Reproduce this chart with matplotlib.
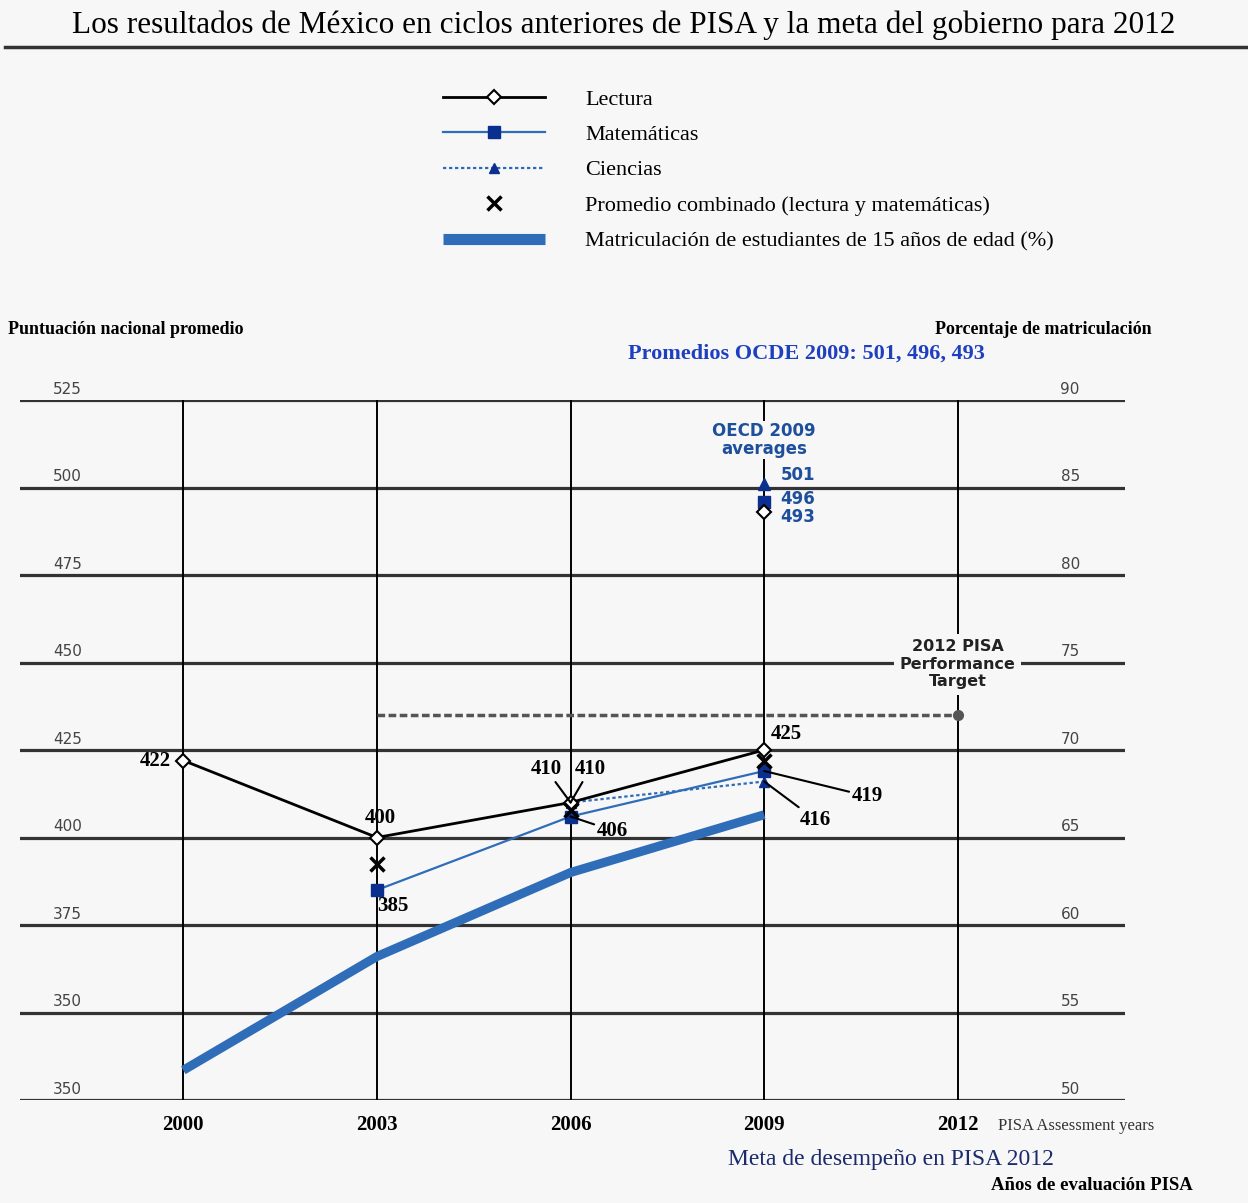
import numpy as np
import matplotlib.pyplot as plt
from matplotlib.lines import Line2D

# datos
years = [2000, 2003, 2006, 2009]
lectura = [422, 400, 410, 425]
mate_years = [2003, 2006, 2009]
matematicas = [385, 406, 419]
ciencias_years = [2006, 2009]
ciencias = [410, 416]
comb_years = [2003, 2006, 2009]
combinado = [392.5, 408, 422]
matric = [51.7, 58.2, 63.0, 66.3]  # % matriculacion (eje derecho)
oecd = {'ciencias': 501, 'matematicas': 496, 'lectura': 493}
meta_years = [2003, 2012]
meta = [435, 435]

left_ticks = [525, 500, 475, 450, 425, 400, 375, 350, 325]
left_labels = ['525', '500', '475', '450', '425', '400', '375', '350', '350']
right_labels = ['90', '85', '80', '75', '70', '65', '60', '55', '50']
xyears = [2000, 2003, 2006, 2009, 2012]

bg = '#f7f7f7'
blue_line = '#2f6db8'
navy = '#0a2f8f'
oecd_blue = '#1d4f9c'
serif = 'Liberation Serif'

W, H = 1248, 1203
fig = plt.figure(figsize=(W / 100, H / 100), dpi=100, facecolor=bg)
ax = fig.add_axes([20 / W, 1 - 1100 / H, 1105 / W, 700 / H])
ax.set_facecolor(bg)
x0, x1 = 1997.47, 2014.59
ax.set_xlim(x0, x1)
ax.set_ylim(325, 525)
for s in ax.spines.values():
    s.set_visible(False)
ax.set_xticks([])
ax.set_yticks([])

# rejilla
for v in left_ticks:
    ax.axhline(v, color='#333333', lw=2.3, zorder=1)
ax.vlines(xyears, 325, 525, color='black', lw=1.4, zorder=1)

# etiquetas de los ejes
for v, lab in zip(left_ticks, left_labels):
    ax.text(1998.21, v + 0.9, lab, ha='center', va='bottom', fontsize=11,
            color='#444444', family='DejaVu Sans')
for v, lab in zip(left_ticks, right_labels):
    ax.text(2013.74, v + 0.9, lab, ha='center', va='bottom', fontsize=11,
            color='#444444', family='DejaVu Sans')
for yr in xyears:
    ax.text(yr, 318, str(yr), ha='center', va='center', fontsize=15,
            fontweight='bold', family=serif)

# matriculacion en eje derecho
ax2 = ax.twinx()
ax2.set_ylim(50, 90)
ax2.set_axis_off()
l_mat, = ax2.plot(years, matric, color=blue_line, lw=6.5, solid_capstyle='butt', zorder=3)

# meta 2012
l_meta, = ax.plot(meta_years, meta, color='#555555', lw=2.5, ls=(0, (2.2, 1)), zorder=4)
ax.plot([2012], [435], 'o', color='#555555', ms=7, zorder=5)

l_cien, = ax.plot(ciencias_years, ciencias, color=blue_line, lw=1.6, ls=(0, (1.5, 1.2)),
                  marker='^', mfc=navy, mec=navy, ms=7, zorder=6)
l_mate, = ax.plot(mate_years, matematicas, color=blue_line, lw=1.6,
                  marker='s', mfc=navy, mec=navy, ms=8, zorder=6)
l_lect, = ax.plot(years, lectura, color='black', lw=2,
                  marker='D', mfc='white', mec='black', mew=1.5, ms=7, zorder=7)
l_comb, = ax.plot(comb_years, combinado, 'x', color='black', mew=2.5, ms=10, ls='none', zorder=8)

# promedios OCDE 2009
ax.plot([2009], [oecd['ciencias']], '^', color=navy, ms=8, zorder=6)
ax.plot([2009], [oecd['matematicas']], 's', color=navy, ms=8, zorder=6)
ax.plot([2009], [oecd['lectura']], 'D', mfc='white', mec='black', mew=1.5, ms=7, zorder=7)
ax.text(2009.25, 503.6, '501', color=oecd_blue, fontsize=12, fontweight='bold', va='center')
ax.text(2009.25, 496.7, '496', color=oecd_blue, fontsize=12, fontweight='bold', va='center')
ax.text(2009.25, 491.6, '493', color=oecd_blue, fontsize=12, fontweight='bold', va='center')
ax.text(2009, 513.6, 'OECD 2009\naverages', color=oecd_blue, fontsize=12, fontweight='bold',
        ha='center', va='center', linespacing=1.0,
        bbox=dict(facecolor=bg, edgecolor='none', pad=1), zorder=9)
ax.text(2012, 449.5, '2012 PISA\nPerformance\nTarget', color='#222222', fontsize=11.5,
        fontweight='bold', ha='center', va='center', linespacing=1.2,
        bbox=dict(facecolor=bg, edgecolor='none', pad=4), zorder=9)

# etiquetas de datos
lab = dict(fontsize=15, fontweight='bold', family=serif, zorder=10)
lead = dict(arrowstyle='-', color='black', lw=1.5, shrinkA=0, shrinkB=0)
ax.text(1999.8, 422, '422', ha='right', va='center', **lab)
ax.text(2003.05, 405.5, '400', ha='center', va='center', **lab)
ax.text(2003.25, 380.5, '385', ha='center', va='center', **lab)
ax.annotate('410', xy=(2006, 410), xytext=(2005.62, 419.5), ha='center', va='center', arrowprops=lead, **lab)
ax.annotate('410', xy=(2006, 410), xytext=(2006.3, 419.5), ha='center', va='center', arrowprops=lead, **lab)
ax.annotate('406', xy=(2006, 406), xytext=(2006.65, 402), ha='center', va='center', arrowprops=lead, **lab)
ax.text(2009.35, 429.5, '425', ha='center', va='center', **lab)
ax.annotate('419', xy=(2009, 419), xytext=(2010.6, 411.8), ha='center', va='center', arrowprops=lead, **lab)
ax.annotate('416', xy=(2009, 416), xytext=(2009.8, 405), ha='center', va='center', arrowprops=lead, **lab)

# titulo y textos
fig.text(624 / W, 1 - 25 / H, 'Los resultados de México en ciclos anteriores de PISA y la meta del gobierno para 2012',
         ha='center', va='center', fontsize=22.5, family=serif)
fig.add_artist(Line2D([5 / W, 1], [1 - 47 / H] * 2, color='#333333', lw=2.5))
fig.text(8 / W, 1 - 329 / H, 'Puntuación nacional promedio', ha='left', va='center',
         fontsize=13, fontweight='bold', family=serif)
fig.text(1152 / W, 1 - 329 / H, 'Porcentaje de matriculación', ha='right', va='center',
         fontsize=13, fontweight='bold', family=serif)
fig.text(806 / W, 1 - 354 / H, 'Promedios OCDE 2009: 501, 496, 493', ha='center', va='center',
         fontsize=16, fontweight='bold', family=serif, color='#1f3fbf')
fig.text(998 / W, 1 - 1126 / H, 'PISA Assessment years', ha='left', va='center',
         fontsize=12, family=serif, color='#333333')
fig.text(891 / W, 1 - 1160 / H, 'Meta de desempeño en PISA 2012', ha='center', va='center',
         fontsize=17, family=serif, color='#1a2a6c')
fig.text(1193 / W, 1 - 1186 / H, 'Años de evaluación PISA', ha='right', va='center',
         fontsize=13.5, fontweight='bold', family=serif)

# leyenda
handles = [l_lect, l_mate, l_cien, l_comb, l_mat]
labels = ['Lectura', 'Matemáticas', 'Ciencias',
          'Promedio combinado (lectura y matemáticas)',
          'Matriculación de estudiantes de 15 años de edad (%)']
leg = fig.legend(handles, labels, loc='upper left', bbox_to_anchor=(443 / W, 1 - 89 / H),
                 frameon=False, prop={'family': serif, 'size': 16}, numpoints=1,
                 handlelength=4.6, handletextpad=1.8, labelspacing=0.67, borderpad=0, borderaxespad=0)
leg.legend_handles[4].set_linewidth(8)

fig.savefig('out.png', dpi=100, facecolor=bg)
